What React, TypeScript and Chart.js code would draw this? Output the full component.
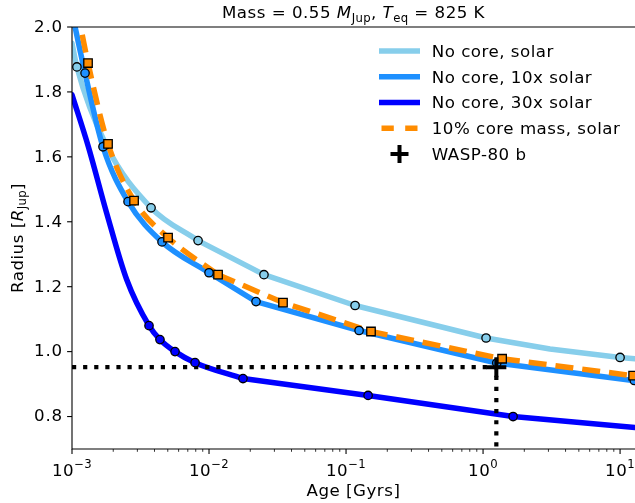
import React, { useEffect, useRef } from "react";
import { Chart, registerables } from "chart.js";

Chart.register(...registerables);

// ---- Data (age in Gyr, radius in R_Jup) ----
const solarLineAge = [0.001, 0.001086, 0.00177, 0.003776, 0.00832, 0.02518, 0.1164, 1.052, 3.08, 10.0, 12.85];
const solarLineRadius = [1.95, 1.877, 1.637, 1.443, 1.342, 1.237, 1.142, 1.042, 1.008, 0.982, 0.978];
const solarMarkAge = [0.001086, 0.00177, 0.003776, 0.00832, 0.02518, 0.1164, 1.052, 10.0];
const solarMarkRadius = [1.877, 1.637, 1.443, 1.342, 1.237, 1.142, 1.042, 0.982];

const x10LineAge = [0.001, 0.001245, 0.001683, 0.002564, 0.004539, 0.01, 0.02203, 0.1245, 1.26, 12.85];
const x10LineRadius = [2.045, 1.858, 1.631, 1.462, 1.338, 1.243, 1.154, 1.065, 0.965, 0.91];
const x10MarkAge = [0.001245, 0.001683, 0.002564, 0.004539, 0.01, 0.02203, 0.1245, 1.26, 12.7];
const x10MarkRadius = [1.858, 1.631, 1.462, 1.338, 1.243, 1.154, 1.065, 0.965, 0.911];

const x30LineAge = [0.001, 0.001315, 0.00179, 0.002506, 0.003648, 0.004385, 0.005649, 0.00791, 0.0177, 0.1449, 1.656, 12.85];
const x30LineRadius = [1.791, 1.632, 1.427, 1.222, 1.08, 1.037, 1.0, 0.966, 0.917, 0.865, 0.8, 0.766];
const x30MarkAge = [0.003648, 0.004385, 0.005649, 0.00791, 0.0177, 0.1449, 1.656];
const x30MarkRadius = [1.08, 1.037, 1.0, 0.966, 0.917, 0.865, 0.8];

const coreLineAge = [0.001, 0.001309, 0.001832, 0.002838, 0.005023, 0.01164, 0.03467, 0.1521, 1.377, 12.85];
const coreLineRadius = [2.14, 1.889, 1.64, 1.465, 1.351, 1.237, 1.151, 1.062, 0.978, 0.925];
const coreMarkAge = [0.001309, 0.001832, 0.002838, 0.005023, 0.01164, 0.03467, 0.1521, 1.377, 12.45];
const coreMarkRadius = [1.889, 1.64, 1.465, 1.351, 1.237, 1.151, 1.062, 0.978, 0.926];

// index where each track changes from its smooth early part to the straight late part
const solarKnee = 4;
const x10Knee = 5;
const x30Knee = 8;
const coreKnee = 5;

const planetAge = [1.25];
const planetRadius = [0.952];

const yTicks = [0.8, 1.0, 1.2, 1.4, 1.6, 1.8, 2.0];
const xTicks = [0.001, 0.01, 0.1, 1, 10];
const xTickExp = ["\u22123", "\u22122", "\u22121", "0", "1"];

const legendLabels = ["No core, solar", "No core, 10x solar", "No core, 30x solar", "10% core mass, solar", "WASP-80 b"];

const C_SOLAR = "#87CEEB";
const C_10X = "#1E90FF";
const C_30X = "#0000FF";
const C_CORE = "#FF8C00";

const FS = 16.67;
const FAM = '"DejaVu Sans", sans-serif';
const LS = 0.5;

type Seg = { t: string; it?: boolean; sub?: boolean; sup?: boolean };

function segFont(s: Seg, size: number) {
  const sz = s.sub || s.sup ? size * 0.7 : size;
  return `${s.it ? "italic " : ""}${sz}px ${FAM}`;
}

function setLS(ctx: CanvasRenderingContext2D, px: number) {
  (ctx as any).letterSpacing = `${px}px`;
}

function drawRich(ctx: CanvasRenderingContext2D, segs: Seg[], x: number, y: number, size: number, align: string) {
  let total = 0;
  const widths = segs.map((s) => {
    ctx.font = segFont(s, size);
    setLS(ctx, s.sub || s.sup ? LS * 0.7 : LS);
    const w = ctx.measureText(s.t).width;
    total += w;
    return w;
  });
  let cx = align === "center" ? x - total / 2 : align === "right" ? x - total : x;
  ctx.textAlign = "left";
  ctx.textBaseline = "alphabetic";
  segs.forEach((s, i) => {
    ctx.font = segFont(s, size);
    setLS(ctx, s.sub || s.sup ? LS * 0.7 : LS);
    const dy = s.sub ? size * 0.22 : s.sup ? -size * 0.5 : 0;
    ctx.fillText(s.t, cx, y + dy);
    cx += widths[i];
  });
  setLS(ctx, 0);
}

const pts = (xs: number[], ys: number[]) => xs.map((x, i) => ({ x, y: ys[i] }));

const decor = {
  id: "decor",
  afterDraw(chart: any) {
    const ctx: CanvasRenderingContext2D = chart.ctx;
    const a = chart.chartArea;
    const xs = chart.scales.x;
    const ys = chart.scales.y;
    ctx.save();
    ctx.strokeStyle = "#000";
    ctx.fillStyle = "#000";
    ctx.lineWidth = 1.1;
    ctx.setLineDash([]);
    ctx.beginPath();
    ctx.moveTo(a.left, a.top);
    ctx.lineTo(a.left, a.bottom);
    ctx.lineTo(a.right + 2, a.bottom);
    ctx.moveTo(a.left, a.top);
    ctx.lineTo(a.right + 2, a.top);
    ctx.stroke();
    yTicks.forEach((v) => {
      const py = ys.getPixelForValue(v);
      ctx.lineWidth = 1.1;
      ctx.beginPath();
      ctx.moveTo(a.left - 4.9, py);
      ctx.lineTo(a.left, py);
      ctx.stroke();
      ctx.font = `${FS}px ${FAM}`;
      setLS(ctx, 0.9);
      ctx.textAlign = "right";
      ctx.textBaseline = "middle";
      ctx.fillText(v.toFixed(1), a.left - 9.8 + 0.9, py + 0.5);
      setLS(ctx, 0);
    });
    xTicks.forEach((v, i) => {
      const px = xs.getPixelForValue(v);
      ctx.lineWidth = 1.1;
      ctx.beginPath();
      ctx.moveTo(px, a.bottom);
      ctx.lineTo(px, a.bottom + 4.9);
      ctx.stroke();
      drawRich(ctx, [{ t: "10" }, { t: xTickExp[i], sup: true }], px, 476, FS, "center");
    });
    for (let e = -3; e <= 1; e++) {
      for (let k = 2; k <= 9; k++) {
        const v = k * Math.pow(10, e);
        if (v > xs.max) continue;
        const px = xs.getPixelForValue(v);
        ctx.lineWidth = 0.8;
        ctx.beginPath();
        ctx.moveTo(px, a.bottom);
        ctx.lineTo(px, a.bottom + 2.8);
        ctx.stroke();
      }
    }
    const cxAxis = (a.left + a.right) / 2;
    drawRich(ctx, [{ t: "Age [Gyrs]" }], cxAxis, 496, FS, "center");
    ctx.save();
    ctx.translate(22.5, (a.top + a.bottom) / 2);
    ctx.rotate(-Math.PI / 2);
    drawRich(ctx, [{ t: "Radius [" }, { t: "R", it: true }, { t: "Jup", sub: true }, { t: "]" }], 0, 0, FS, "center");
    ctx.restore();
    drawRich(
      ctx,
      [
        { t: "Mass = 0.55 " },
        { t: "M", it: true },
        { t: "Jup", sub: true },
        { t: ", " },
        { t: "T", it: true },
        { t: "eq", sub: true },
        { t: " = 825 K" },
      ],
      cxAxis,
      18.3,
      FS,
      "center"
    );
    // legend
    const hx0 = 381.5;
    const hx1 = 417.5;
    const tx = 431.7;
    const colors = [C_SOLAR, C_10X, C_30X];
    legendLabels.forEach((lab, i) => {
      const base = 56.7 + i * 25.8;
      const cy = base - 5.8;
      ctx.lineCap = "butt";
      ctx.setLineDash([]);
      if (i < 3) {
        ctx.strokeStyle = colors[i];
        ctx.lineWidth = 5.5;
        ctx.beginPath();
        ctx.moveTo(hx0 - 2.5, cy);
        ctx.lineTo(hx1 + 2.5, cy);
        ctx.stroke();
      } else if (i === 3) {
        ctx.strokeStyle = C_CORE;
        ctx.lineWidth = 5.5;
        ctx.beginPath();
        ctx.moveTo(hx0, cy);
        ctx.lineTo(hx0 + 12.3, cy);
        ctx.moveTo(hx1 - 12.3, cy);
        ctx.lineTo(hx1, cy);
        ctx.stroke();
      } else {
        ctx.strokeStyle = "#000";
        ctx.lineWidth = 4;
        const mx = (hx0 + hx1) / 2;
        ctx.beginPath();
        ctx.moveTo(mx - 9, cy);
        ctx.lineTo(mx + 9, cy);
        ctx.moveTo(mx, cy - 9);
        ctx.lineTo(mx, cy + 9);
        ctx.stroke();
      }
      ctx.fillStyle = "#000";
      drawRich(ctx, [{ t: lab }], tx, base, FS, "left");
    });
    ctx.restore();
  },
};

export default function App() {
  const ref = useRef<HTMLCanvasElement | null>(null);
  useEffect(() => {
    if (!ref.current) return;
    const lineDs = (label: string, data: any, color: string, order: number, smooth: boolean, dash: number[] = []) => ({
      label,
      data,
      showLine: true,
      borderColor: color,
      backgroundColor: color,
      borderWidth: 5.5,
      borderDash: dash,
      borderCapStyle: dash.length ? "butt" : "round",
      borderJoinStyle: "round",
      pointRadius: 0,
      cubicInterpolationMode: smooth ? "monotone" : "default",
      tension: 0,
      order,
    });
    const split = (label: string, xsA: number[], ysA: number[], knee: number, color: string, order: number, dash: number[] = []) => [
      lineDs(label, pts(xsA.slice(0, knee + 1), ysA.slice(0, knee + 1)), color, order, true, dash),
      lineDs(label + " tail", pts(xsA.slice(knee), ysA.slice(knee)), color, order, false, dash),
    ];
    const markDs = (label: string, data: any, color: string, order: number, style: string, r: number) => ({
      label,
      data,
      showLine: false,
      pointStyle: style,
      pointRadius: r,
      pointBackgroundColor: color,
      pointBorderColor: "#000",
      pointBorderWidth: 1.3,
      order,
    });
    const chart = new Chart(ref.current, {
      type: "scatter",
      data: {
        datasets: [
          ...split("No core, solar", solarLineAge, solarLineRadius, solarKnee, C_SOLAR, 9),
          ...split("No core, 10x solar", x10LineAge, x10LineRadius, x10Knee, C_10X, 8),
          ...split("No core, 30x solar", x30LineAge, x30LineRadius, x30Knee, C_30X, 7),
          ...split("10% core mass, solar", coreLineAge, coreLineRadius, coreKnee, C_CORE, 6, [18, 9]),
          {
            label: "guide",
            data: [
              { x: 0.001, y: planetRadius[0] },
              { x: planetAge[0], y: planetRadius[0] },
              { x: planetAge[0], y: 0.7 },
            ],
            showLine: true,
            borderColor: "#000",
            borderWidth: 4.2,
            borderDash: [4.2, 6.9],
            borderCapStyle: "butt",
            pointRadius: 0,
            tension: 0,
            order: 5,
          },
          markDs("solar pts", pts(solarMarkAge, solarMarkRadius), C_SOLAR, 4, "circle", 4.2),
          markDs("10x pts", pts(x10MarkAge, x10MarkRadius), C_10X, 3, "circle", 4.2),
          markDs("30x pts", pts(x30MarkAge, x30MarkRadius), C_30X, 2, "circle", 4.2),
          markDs("core pts", pts(coreMarkAge, coreMarkRadius), C_CORE, 1, "rect", 6),
          {
            label: "WASP-80 b",
            data: pts(planetAge, planetRadius),
            showLine: false,
            pointStyle: "cross",
            pointRadius: 10,
            pointBorderColor: "#000",
            pointBorderWidth: 4,
            order: 0,
          },
        ] as any,
      },
      options: {
        animation: false,
        responsive: false,
        maintainAspectRatio: false,
        events: [],
        layout: { autoPadding: false, padding: { left: 72, top: 27, right: 0, bottom: 54 } },
        plugins: { legend: { display: false }, tooltip: { enabled: false }, title: { display: false } },
        scales: {
          x: { type: "logarithmic", min: 0.001, max: 12.85, display: false },
          y: { type: "linear", min: 0.7, max: 2.0, display: false },
        },
      } as any,
      plugins: [decor],
    });
    return () => chart.destroy();
  }, []);
  return (
    <div style={{ position: "fixed", left: 0, top: 0, width: 635, height: 503, background: "#fff" }}>
      <canvas ref={ref} width={635} height={503} style={{ width: 635, height: 503, display: "block" }} />
    </div>
  );
}
